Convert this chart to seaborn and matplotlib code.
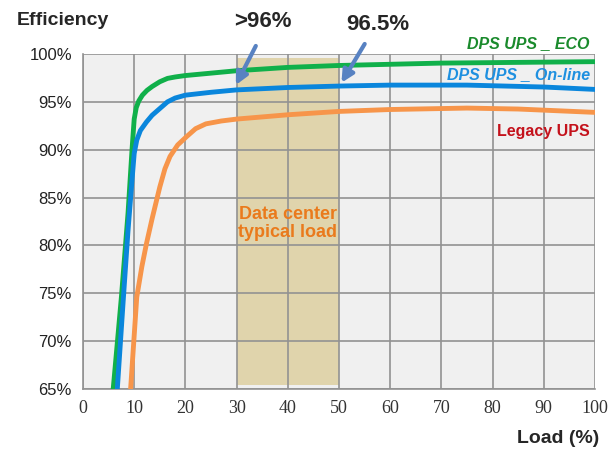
import matplotlib.pyplot as plt
import seaborn as sns
import pandas as pd

# load (%) vs efficiency (%)
eco_load = [5.5, 5.9, 7.5, 8.8, 9.6, 10.0, 10.4, 10.9, 11.6, 12.5, 13.5, 15.0, 16.5,
            18.0, 20.0, 25.0, 30.0, 40.0, 50.0, 70.0, 100.0]
eco_eff = [62.0, 65.0, 74.6, 83.4, 90.2, 93.2, 94.4, 95.1, 95.7, 96.2, 96.6, 97.1, 97.45,
           97.6, 97.75, 98.0, 98.25, 98.6, 98.8, 99.05, 99.2]

online_load = [6.4, 6.7, 7.9, 8.8, 9.6, 10.0, 10.5, 11.2, 12.4, 13.5, 15.0, 16.5,
               18.0, 20.0, 25.0, 30.0, 40.0, 50.0, 60.0, 75.0, 90.0, 100.0]
online_eff = [62.0, 65.0, 74.6, 81.6, 87.0, 89.6, 91.0, 92.0, 92.9, 93.6, 94.3, 95.0,
              95.4, 95.7, 96.0, 96.25, 96.5, 96.65, 96.75, 96.75, 96.55, 96.3]

legacy_load = [9.1, 9.3, 10.5, 11.5, 12.4, 13.5, 15.0, 16.0, 17.0, 18.5, 20.3, 22.0,
               24.0, 27.0, 30.0, 40.0, 50.0, 60.0, 75.0, 85.0, 100.0]
legacy_eff = [62.0, 65.0, 74.6, 77.8, 80.2, 82.8, 86.1, 88.0, 89.3, 90.5, 91.4, 92.2,
              92.7, 93.0, 93.2, 93.65, 94.0, 94.2, 94.35, 94.25, 93.9]

typical_load = [30, 50]
x_ticks = [0, 10, 20, 30, 40, 50, 60, 70, 80, 90, 100]
y_ticks = [65, 70, 75, 80, 85, 90, 95, 100]

df = pd.concat([
    pd.DataFrame({"load": eco_load, "eff": eco_eff, "ups": "DPS UPS _ ECO"}),
    pd.DataFrame({"load": online_load, "eff": online_eff, "ups": "DPS UPS _ On-line"}),
    pd.DataFrame({"load": legacy_load, "eff": legacy_eff, "ups": "Legacy UPS"}),
])

sns.set_style("whitegrid")
plt.rcParams["font.family"] = ["Liberation Sans", "DejaVu Sans"]

fig = plt.figure(figsize=(6.13, 4.5), dpi=100)
ax = fig.add_axes([0.1354, 0.1356, 0.8352, 0.7444])
ax.set_facecolor("#f0f0f0")

sns.lineplot(data=df, x="load", y="eff", hue="ups", sort=False,
             palette={"DPS UPS _ ECO": "#10b04a", "DPS UPS _ On-line": "#0a86dc",
                      "Legacy UPS": "#f7954a"},
             linewidth=3.5, legend=False, ax=ax, zorder=3)
for line in ax.lines:
    line.set_solid_joinstyle("round")

# typical load band
ax.fill_between(typical_load, 65.4, 99.6, color="#e0d4ac", zorder=0.4, lw=0)

ax.set_xlim(0, 100)
ax.set_ylim(65, 100)
ax.set_xticks(x_ticks)
ax.set_yticks(y_ticks)
ax.set_yticklabels([f"{v}%" for v in y_ticks], fontsize=12, color="#222222")
ax.set_xticklabels([str(v) for v in x_ticks], fontsize=13, color="#333333",
                   family="Liberation Serif")
ax.grid(True, color="#929292", lw=1.2)
ax.set_axisbelow(True)
for side in ["top", "right"]:
    ax.spines[side].set_visible(False)
for side in ["left", "bottom"]:
    ax.spines[side].set_color("#929292")
    ax.spines[side].set_linewidth(1.2)
ax.tick_params(axis="y", length=6, color="#929292", width=1.2, pad=2)
ax.tick_params(axis="x", length=0, pad=8)
ax.set_xlabel("")
ax.set_ylabel("")

fig.text(0.028, 0.955, "Efficiency", fontsize=14, fontweight="bold", va="center")
fig.text(0.978, 0.025, "Load (%)", fontsize=14, fontweight="bold", ha="right", va="center")

ax.text(99, 101.1, "DPS UPS _ ECO", color="#1a8a2c", fontsize=11.5,
        fontweight="bold", style="italic", ha="right", va="center", clip_on=False)
ax.text(99, 97.8, "DPS UPS _ On-line", color="#1e90e0", fontsize=11.5,
        fontweight="bold", style="italic", ha="right", va="center")
ax.text(99, 91.9, "Legacy UPS", color="#c4121c", fontsize=11.5,
        fontweight="bold", ha="right", va="center")
ax.text(40, 82.3, "Data center\ntypical load", color="#ea7a1c", fontsize=13,
        fontweight="bold", ha="center", va="center", linespacing=1.1)

arrow = dict(arrowstyle="-|>", color="#5882c2", lw=3, mutation_scale=18)
ax.annotate("", xy=(29.6, 96.5), xytext=(34.0, 101.1), arrowprops=arrow,
            annotation_clip=False)
ax.annotate("", xy=(50.2, 96.75), xytext=(55.3, 101.3), arrowprops=arrow,
            annotation_clip=False)
ax.text(35.2, 103.4, ">96%", fontsize=16, fontweight="bold", ha="center", va="center")
ax.text(57.5, 103.1, "96.5%", fontsize=16, fontweight="bold", ha="center", va="center")

fig.savefig("out.png", dpi=100)
